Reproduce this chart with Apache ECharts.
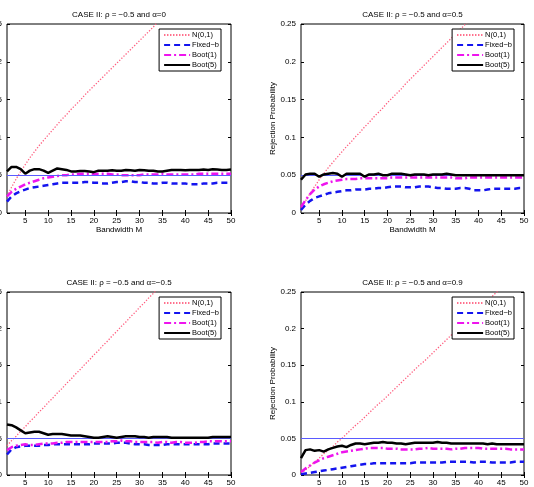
<!DOCTYPE html>
<html>
<head>
<meta charset="utf-8">
<script src="https://cdn.jsdelivr.net/npm/echarts@6/dist/echarts.min.js"></script>
<style>
  html, body { margin: 0; padding: 0; background: #fff; }
  #chart { width: 534px; height: 487px; }
</style>
</head>
<body>
<div id="chart"></div>
<script>
// bandwidth M on the x axis
const bandwidth = [1,2,3,4,5,6,7,8,9,10,11,12,13,14,15,16,17,18,19,20,21,22,23,24,25,
  26,27,28,29,30,31,32,33,34,35,36,37,38,39,40,41,42,43,44,45,46,47,48,49,50];
const xTickValues = [5,10,15,20,25,30,35,40,45,50];
const seriesNames = ['N(0,1)', 'Fixed\u2212b', 'Boot(1)', 'Boot(5)'];
const titles = [
  'CASE II: \u03c1 = \u22120.5 and \u03b1=0',
  'CASE II: \u03c1 = \u22120.5 and \u03b1=0.5',
  'CASE II: \u03c1 = \u22120.5 and \u03b1=\u22120.5',
  'CASE II: \u03c1 = \u22120.5 and \u03b1=0.9'
];
const nominalLevel = 0.05;

// alpha = 0
const n01A0 = [0.022,0.034,0.045,0.055,0.064,0.073,0.081,0.089,0.096,0.103,0.110,0.117,0.124,0.130,0.137,0.143,0.149,0.156,0.162,0.168,
  0.174,0.180,0.186,0.192,0.198,0.204,0.210,0.216,0.222,0.228,0.234,0.240,0.246,0.253];
const fixbA0 = [0.015,0.022,0.026,0.029,0.031,0.033,0.034,0.035,0.036,0.037,0.038,0.039,0.040,0.040,0.040,0.040,0.040,0.041,0.041,0.040,
  0.040,0.039,0.039,0.040,0.041,0.041,0.042,0.042,0.041,0.041,0.040,0.040,0.039,0.039,0.040,0.040,0.039,0.039,0.039,0.039,
  0.038,0.038,0.038,0.039,0.039,0.039,0.040,0.040,0.040,0.040];
const boot1A0 = [0.022,0.028,0.032,0.035,0.038,0.040,0.042,0.044,0.046,0.047,0.048,0.049,0.050,0.050,0.051,0.051,0.052,0.052,0.052,0.051,
  0.052,0.052,0.052,0.051,0.051,0.050,0.050,0.050,0.050,0.050,0.051,0.051,0.051,0.051,0.052,0.051,0.051,0.051,0.051,0.051,
  0.051,0.051,0.052,0.052,0.052,0.052,0.052,0.052,0.052,0.052];
const boot5A0 = [0.055,0.061,0.061,0.058,0.052,0.056,0.058,0.058,0.056,0.053,0.056,0.059,0.058,0.057,0.055,0.055,0.0555,0.0555,0.055,0.054,
  0.056,0.056,0.056,0.0565,0.056,0.056,0.057,0.0565,0.056,0.057,0.0565,0.056,0.056,0.055,0.055,0.056,0.057,0.057,0.057,0.0565,
  0.057,0.057,0.057,0.0575,0.057,0.058,0.0575,0.057,0.057,0.0575];

// alpha = 0.5
const n01A05 = [0.006,0.016,0.026,0.035,0.044,0.052,0.060,0.067,0.074,0.081,0.088,0.094,0.101,0.107,0.114,0.120,0.127,0.133,0.139,0.146,
  0.152,0.158,0.164,0.171,0.177,0.183,0.189,0.195,0.201,0.207,0.213,0.219,0.225,0.231,0.237,0.243,0.249,0.255];
const fixbA05 = [0.004,0.011,0.016,0.020,0.022,0.024,0.026,0.027,0.028,0.029,0.030,0.030,0.031,0.031,0.031,0.032,0.032,0.033,0.033,0.034,
  0.035,0.035,0.035,0.034,0.034,0.034,0.035,0.035,0.035,0.034,0.033,0.033,0.032,0.032,0.032,0.033,0.033,0.032,0.030,0.030,
  0.030,0.031,0.032,0.032,0.032,0.032,0.032,0.032,0.033,0.033];
const boot1A05 = [0.008,0.017,0.025,0.031,0.035,0.038,0.040,0.042,0.043,0.044,0.045,0.045,0.045,0.046,0.046,0.046,0.046,0.046,0.046,0.046,
  0.047,0.047,0.047,0.047,0.047,0.047,0.047,0.047,0.047,0.047,0.047,0.047,0.047,0.047,0.046,0.046,0.046,0.047,0.047,0.047,
  0.047,0.047,0.047,0.047,0.047,0.047,0.047,0.047,0.047,0.047];
const boot5A05 = [0.044,0.051,0.052,0.052,0.048,0.051,0.052,0.053,0.052,0.048,0.052,0.052,0.052,0.052,0.048,0.051,0.051,0.052,0.050,0.050,
  0.052,0.052,0.052,0.051,0.050,0.051,0.051,0.051,0.050,0.051,0.051,0.051,0.052,0.051,0.050,0.050,0.050,0.050,0.050,0.050,
  0.050,0.050,0.050,0.050,0.050,0.050,0.050,0.050,0.050,0.050];

// alpha = -0.5
const n01Am05 = [0.040,0.047,0.053,0.060,0.066,0.073,0.079,0.086,0.092,0.099,0.105,0.112,0.118,0.125,0.131,0.138,0.144,0.151,0.157,0.164,
  0.170,0.177,0.183,0.190,0.196,0.203,0.209,0.216,0.222,0.229,0.235,0.242,0.248,0.255];
const fixbAm05 = [0.028,0.035,0.038,0.039,0.040,0.040,0.040,0.040,0.041,0.041,0.042,0.042,0.042,0.042,0.042,0.042,0.042,0.042,0.042,0.043,
  0.043,0.043,0.043,0.043,0.044,0.044,0.044,0.043,0.042,0.042,0.042,0.041,0.041,0.041,0.041,0.042,0.042,0.042,0.042,0.042,
  0.042,0.042,0.042,0.042,0.042,0.043,0.043,0.043,0.043,0.043];
const boot1Am05 = [0.034,0.038,0.040,0.041,0.042,0.041,0.041,0.042,0.043,0.043,0.043,0.044,0.044,0.045,0.045,0.045,0.045,0.045,0.045,0.045,
  0.045,0.045,0.045,0.046,0.046,0.047,0.046,0.046,0.045,0.045,0.045,0.045,0.045,0.044,0.045,0.045,0.044,0.045,0.045,0.044,
  0.044,0.044,0.045,0.045,0.046,0.046,0.046,0.046,0.046,0.046];
const boot5Am05 = [0.069,0.068,0.065,0.061,0.057,0.058,0.059,0.059,0.057,0.055,0.056,0.056,0.056,0.055,0.054,0.054,0.054,0.053,0.052,0.051,
  0.051,0.052,0.053,0.052,0.051,0.052,0.053,0.053,0.053,0.052,0.052,0.051,0.052,0.052,0.052,0.052,0.051,0.051,0.051,0.051,
  0.051,0.051,0.051,0.051,0.051,0.052,0.052,0.052,0.052,0.052];

// alpha = 0.9
const n01A09 = [0.002,0.007,0.012,0.018,0.023,0.029,0.034,0.039,0.045,0.050,0.056,0.062,0.068,0.073,0.079,0.085,0.091,0.097,0.102,0.108,
  0.114,0.120,0.126,0.132,0.138,0.144,0.150,0.155,0.161,0.167,0.173,0.179,0.185,0.191,0.197,0.203,0.209,0.215,0.221,0.226,
  0.232,0.238,0.244,0.250,0.256];
const fixbA09 = [0.001,0.002,0.003,0.004,0.005,0.006,0.007,0.008,0.009,0.010,0.011,0.012,0.013,0.014,0.015,0.015,0.016,0.016,0.016,0.016,
  0.016,0.016,0.016,0.016,0.016,0.017,0.017,0.017,0.017,0.017,0.017,0.017,0.018,0.018,0.018,0.018,0.018,0.018,0.017,0.018,
  0.018,0.018,0.017,0.017,0.017,0.017,0.017,0.018,0.018,0.018];
const boot1A09 = [0.004,0.009,0.013,0.017,0.020,0.023,0.025,0.027,0.029,0.031,0.032,0.033,0.034,0.035,0.036,0.037,0.037,0.037,0.037,0.036,
  0.036,0.036,0.035,0.035,0.035,0.035,0.036,0.036,0.037,0.036,0.036,0.036,0.036,0.035,0.036,0.036,0.037,0.037,0.037,0.037,
  0.036,0.036,0.036,0.036,0.036,0.036,0.035,0.035,0.035,0.035];
const boot5A09 = [0.023,0.034,0.035,0.033,0.034,0.032,0.035,0.037,0.039,0.040,0.038,0.041,0.043,0.043,0.042,0.043,0.044,0.044,0.045,0.044,
  0.044,0.043,0.043,0.042,0.043,0.044,0.044,0.044,0.044,0.044,0.045,0.044,0.044,0.043,0.043,0.043,0.043,0.043,0.043,0.043,
  0.043,0.042,0.043,0.042,0.042,0.042,0.042,0.042,0.042,0.042];

const panels = [
  [n01A0, fixbA0, boot1A0, boot5A0],
  [n01A05, fixbA05, boot1A05, boot5A05],
  [n01Am05, fixbAm05, boot1Am05, boot5Am05],
  [n01A09, fixbA09, boot1A09, boot5A09]
];

const FONT = '"Liberation Sans", Arial, Helvetica, sans-serif';
const lineStyles = [
  { color: '#ff6080', type: [1.3, 1.7], width: 1.3 },
  { color: '#1414ee', type: [6, 4], width: 2.5 },
  { color: '#ee14ee', type: [7, 3, 2, 3], width: 2.5 },
  { color: '#000000', type: 'solid', width: 2.5 }
];

const grids = [
  { left: 7, top: 24, width: 224, height: 189 },
  { left: 301, top: 24, width: 223, height: 189 },
  { left: 7, top: 292, width: 224, height: 183 },
  { left: 301, top: 292, width: 223, height: 183 }
];

function pairs(vals) {
  return vals.map((v, i) => [bandwidth[i], v]);
}

const option = {
  animation: false,
  backgroundColor: '#fff',
  textStyle: { fontFamily: FONT },
  title: [],
  legend: [],
  grid: [],
  xAxis: [],
  yAxis: [],
  series: []
};

grids.forEach((g, k) => {
  option.grid.push({ left: g.left, top: g.top, width: g.width, height: g.height,
    outerBoundsMode: 'none', containLabel: false,
    show: true, borderColor: '#000', borderWidth: 1, backgroundColor: '#fff' });

  option.title.push({
    text: titles[k],
    left: g.left + g.width / 2,
    textAlign: 'center',
    top: g.top - 13,
    padding: 0,
    textStyle: { fontSize: 8, fontWeight: 'normal', color: '#000', fontFamily: FONT }
  });

  option.legend.push({
    orient: 'vertical',
    right: 534 - (g.left + g.width) + 10,
    top: g.top + 5,
    data: seriesNames,
    selectedMode: false,
    backgroundColor: '#fff',
    borderColor: '#000',
    borderWidth: 1,
    padding: [2, 2, 2, 4],
    itemGap: 2,
    itemWidth: 26,
    itemHeight: 8,
    itemStyle: { opacity: 0 },
    textStyle: { fontSize: 7.5, color: '#000', fontFamily: FONT, padding: [0, 0, 0, -3] }
  });

  const tickStyle = { show: true, inside: true, length: 3, lineStyle: { color: '#000', width: 1 } };
  // bottom x axis
  option.xAxis.push({
    gridIndex: k, type: 'value', min: 1, max: 50,
    axisLine: { show: false },
    axisTick: Object.assign({ customValues: xTickValues }, tickStyle),
    axisLabel: { customValues: xTickValues, fontSize: 8, color: '#000', margin: 4, fontFamily: FONT },
    splitLine: { show: false },
    name: 'Bandwidth M', nameLocation: 'middle', nameGap: 13,
    nameTextStyle: { fontSize: 8, color: '#000', fontFamily: FONT }
  });
  // top x axis (ticks only)
  option.xAxis.push({
    gridIndex: k, type: 'value', min: 1, max: 50, position: 'top',
    axisLine: { show: false },
    axisTick: Object.assign({ customValues: xTickValues }, tickStyle),
    axisLabel: { show: false, customValues: xTickValues },
    splitLine: { show: false }
  });
  // left y axis
  option.yAxis.push({
    gridIndex: k, type: 'value', min: 0, max: 0.25, interval: 0.05,
    axisLine: { show: false },
    axisTick: tickStyle,
    axisLabel: { fontSize: 8, color: '#000', margin: 5, fontFamily: FONT },
    splitLine: { show: false },
    name: k % 2 === 1 ? 'Rejection Probability' : '',
    nameLocation: 'middle', nameGap: 19,
    nameTextStyle: { fontSize: 8, color: '#000', fontFamily: FONT }
  });
  // right y axis (ticks only)
  option.yAxis.push({
    gridIndex: k, type: 'value', min: 0, max: 0.25, interval: 0.05, position: 'right',
    axisLine: { show: false },
    axisTick: tickStyle,
    axisLabel: { show: false },
    splitLine: { show: false }
  });

  panels[k].forEach((vals, s) => {
    const ser = {
      name: seriesNames[s],
      type: 'line',
      xAxisIndex: 2 * k,
      yAxisIndex: 2 * k,
      data: pairs(vals),
      symbol: 'none',
      showSymbol: false,
      clip: true,
      silent: true,
      lineStyle: lineStyles[s],
      itemStyle: { color: lineStyles[s].color },
      z: 2 + s
    };
    if (s === 1) {
      ser.markLine = {
        silent: true, symbol: 'none', label: { show: false },
        lineStyle: { color: '#5a5aff', width: 1, type: 'solid' },
        data: [{ yAxis: nominalLevel }]
      };
    }
    option.series.push(ser);
  });
});

const chart = echarts.init(document.getElementById('chart'));
chart.setOption(option);
</script>
</body>
</html>
